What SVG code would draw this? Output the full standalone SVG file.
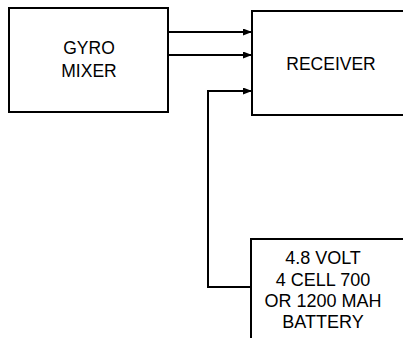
<svg xmlns="http://www.w3.org/2000/svg" width="403" height="338" viewBox="0 0 403 338">
<style>
.box{fill:#fff;stroke:#000;stroke-width:2}
.ln{fill:none;stroke:#000;stroke-width:2}
text{font-family:"Liberation Sans",Arial,Helvetica,sans-serif;fill:#000;text-anchor:middle}
</style>
<defs>
<marker id="ah" markerWidth="9" markerHeight="7" refX="9" refY="3.5" orient="auto" markerUnits="userSpaceOnUse">
<path d="M0,0 L9,3.5 L0,7 Z" fill="#000"/>
</marker>
</defs>
<rect width="403" height="338" fill="#fff"/>
<g id="gyro-mixer">
<rect class="box" x="9" y="8" width="159" height="104"/>
<text x="89" y="54" font-size="17.5">GYRO</text>
<text x="89" y="77" font-size="17.5">MIXER</text>
</g>
<g id="receiver">
<rect class="box" x="252" y="11" width="170" height="104"/>
<text x="331" y="70" font-size="17.5">RECEIVER</text>
</g>
<g id="battery">
<rect class="box" x="251" y="239" width="170" height="120"/>
<text x="323" y="264" font-size="18">4.8 VOLT</text>
<text x="323" y="286" font-size="18">4 CELL 700</text>
<text x="323" y="307" font-size="18">OR 1200 MAH</text>
<text x="323" y="328" font-size="18">BATTERY</text>
</g>
<g id="connectors">
<path class="ln" d="M168,32 H252" marker-end="url(#ah)"/>
<path class="ln" d="M168,55 H252" marker-end="url(#ah)"/>
<path class="ln" d="M251,287 H208 V91 H252" marker-end="url(#ah)"/>
</g>
</svg>
